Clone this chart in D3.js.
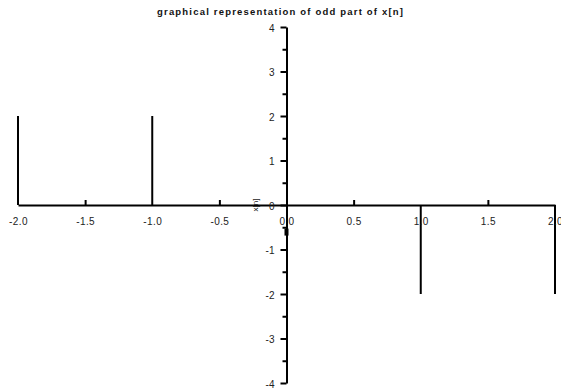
<!DOCTYPE html>
<html><head><meta charset="utf-8">
<script src="https://cdn.jsdelivr.net/npm/d3@7"></script>
<style>body{margin:0;background:#fff;} svg{display:block;}</style>
</head><body>
<svg id="c" width="561" height="392"></svg>
<script>
const n = [-2, -1, 0, 1, 2];
const xo = [2, 2, 0, -2, -2];
const xTicks = [-2, -1.5, -1, -0.5, 0, 0.5, 1, 1.5, 2];
const xTickLabels = ["-2.0", "-1.5", "-1.0", "-0.5", "0.0", "0.5", "1.0", "1.5", "2.0"];
const yTicks = [-4, -3, -2, -1, 0, 1, 2, 3, 4];
const yTickLabels = ["-4", "-3", "-2", "-1", "0", "1", "2", "3", "4"];
const yMinor = [-3.5, -2.5, -1.5, -0.5, 0.5, 1.5, 2.5, 3.5];
const title = "graphical representation of odd part of x[n]";
const yLabel = "x[n]";

const svg = d3.select("#c");
const x = d3.scaleLinear().domain([-2, 2]).range([18, 555]);
const y = d3.scaleLinear().domain([-4, 4]).range([383, 27]);
const font = "Liberation Sans, Arial, sans-serif";

// stems
svg.append("g").selectAll("line").data(n).join("line")
  .attr("x1", d => x(d)).attr("x2", d => x(d))
  .attr("y1", y(0)).attr("y2", (d, i) => y(xo[i]))
  .attr("stroke", "#000").attr("stroke-width", 2);

// x axis
const gx = svg.append("g").attr("transform", `translate(0,${y(0)})`)
  .call(d3.axisBottom(x).tickValues(xTicks).tickSizeInner(-5).tickSizeOuter(0).tickPadding(13)
    .tickFormat((d, i) => xTickLabels[i]));
gx.select(".domain").attr("stroke-width", 2);
gx.selectAll(".tick line").attr("stroke-width", 2).filter(d => Number.isInteger(d)).remove();
gx.selectAll(".tick text").attr("font-family", font).attr("font-size", 10).attr("fill", "#222")
  .attr("letter-spacing", "0.4px");

// y axis
const gy = svg.append("g").attr("transform", `translate(${x(0)},0)`)
  .call(d3.axisLeft(y).tickValues(yTicks).tickSizeInner(6).tickSizeOuter(0).tickPadding(6)
    .tickFormat((d, i) => yTickLabels[i]));
gy.select(".domain").attr("stroke-width", 2);
gy.selectAll(".tick line").attr("stroke-width", 2);
gy.selectAll(".tick text").attr("font-family", font).attr("font-size", 10).attr("fill", "#222")
  .attr("dy", "0.4em");
const gym = svg.append("g").attr("transform", `translate(${x(0)},0)`)
  .call(d3.axisLeft(y).tickValues(yMinor).tickSizeInner(4).tickSizeOuter(0).tickFormat(""));
gym.select(".domain").remove();
gym.selectAll(".tick line").attr("stroke-width", 2);

// small thick mark below origin label
svg.append("rect").attr("x", x(0) - 2).attr("y", y(-0.53)).attr("width", 4).attr("height", 7).attr("fill", "#000");

// y label
svg.append("text").attr("transform", `translate(${x(0) - 29},${y(0)}) rotate(-90)`)
  .attr("text-anchor", "middle").attr("font-family", font).attr("font-size", 8).attr("fill", "#222").text(yLabel);

// title
svg.append("text").attr("x", 280).attr("y", 15).attr("text-anchor", "middle")
  .attr("font-family", font).attr("font-size", 9.5).attr("font-weight", "bold").attr("fill", "#111")
  .attr("textLength", 246).attr("lengthAdjust", "spacing").text(title);
</script>
</body></html>
